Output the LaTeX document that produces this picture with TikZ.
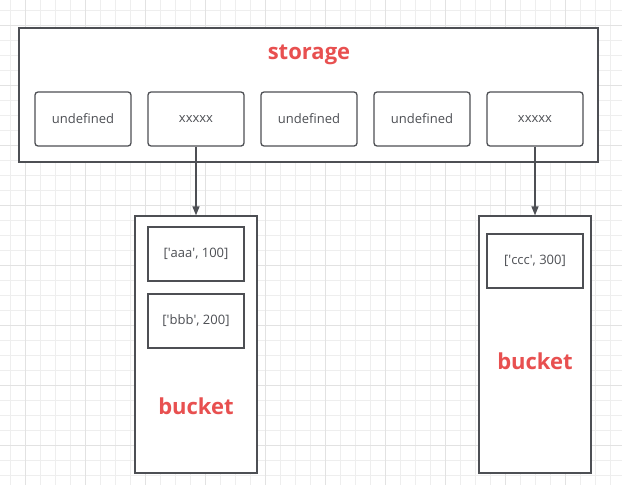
\documentclass[tikz,border=0pt]{standalone}
\usepackage{fontspec}
\setmainfont{Open Sans}
\usetikzlibrary{arrows.meta,positioning}
\definecolor{dgray}{RGB}{77,79,84}
\definecolor{tred}{RGB}{232,80,80}
\definecolor{gridgray}{RGB}{238,238,238}
\definecolor{gridmajor}{RGB}{226,226,226}
\newcommand{\sq}{\textquotesingle}

\begin{document}
\begin{tikzpicture}[x=1pt,y=-1pt,
  frame/.style={draw=dgray, line width=1.3pt, fill=white},
  cell/.style={draw=dgray, line width=1.3pt, rounded corners=3pt, fill=white,
    minimum width=96pt, minimum height=54pt, text=dgray,
    font=\fontsize{13}{15}\selectfont},
  entry/.style={draw=dgray, line width=1.3pt, fill=white,
    minimum width=96pt, minimum height=54pt, text=dgray,
    font=\fontsize{13}{15}\selectfont},
  title/.style={text=tred, font=\fontsize{22}{25}\selectfont\bfseries},
  link/.style={draw=dgray, line width=1.3pt, -{Triangle[length=9pt,width=7pt]}}]
\useasboundingbox (0,0) rectangle (622,485);
% Background grid
\foreach \x in {10,25,...,620} \draw[gridgray, line width=0.8pt] (\x,0) -- (\x,485);
\foreach \y in {10,25,...,484} \draw[gridgray, line width=0.8pt] (0,\y) -- (622,\y);
\foreach \x in {25,85,...,620} \draw[gridmajor, line width=0.8pt] (\x,0) -- (\x,485);
\foreach \y in {25,85,...,484} \draw[gridmajor, line width=0.8pt] (0,\y) -- (622,\y);
% Storage array
\node[frame, minimum width=579pt, minimum height=134pt] (storage) at (308.5,95) {};
\node[title] (storagetitle) at (309,55) {storage};
\foreach \i/\lbl in {1/undefined,2/xxxxx,3/undefined,4/undefined,5/xxxxx}
  \node[cell] (s\i) at ({83+113*(\i-1)},119) {\lbl};
% Buckets
\node[frame, minimum width=122pt, minimum height=257pt] (bucketa) at (196,344.5) {};
\node[entry] (aaa) at (196,254) {[\sq aaa\sq, 100]};
\node[entry] (bbb) at (196,321) {[\sq bbb\sq, 200]};
\node[title] (bucketatitle) at (196,406) {bucket};
\node[frame, minimum width=112pt, minimum height=257pt] (bucketb) at (535,344.5) {};
\node[entry] (ccc) at (535,261) {[\sq ccc\sq, 300]};
\node[title] (bucketbtitle) at (535,361) {bucket};
% Pointers
\draw[link] (s2.south) -- (bucketa.north);
\draw[link] (s5.south) -- (bucketb.north);
\end{tikzpicture}
\end{document}
